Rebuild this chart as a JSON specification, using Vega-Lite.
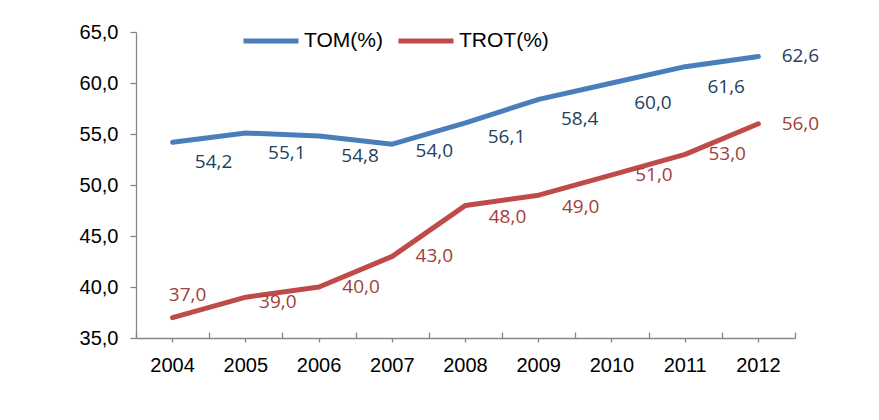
{
  "$schema": "https://vega.github.io/schema/vega-lite/v6.json",
  "autosize": {"type": "none"},
  "padding": {"left": 136, "top": 32, "right": 84, "bottom": 82},
  "width": 659,
  "height": 306,
  "background": "white",
  "config": {"view": {"stroke": null},
    "locale": {"number": {"decimal": ",", "thousands": ".", "grouping": [3], "currency": ["", ""]}}},
  "data": {"values": [
    {"year": "2004", "series": "TOM(%)", "value": 54.2},
    {"year": "2005", "series": "TOM(%)", "value": 55.1},
    {"year": "2006", "series": "TOM(%)", "value": 54.8},
    {"year": "2007", "series": "TOM(%)", "value": 54.0},
    {"year": "2008", "series": "TOM(%)", "value": 56.1},
    {"year": "2009", "series": "TOM(%)", "value": 58.4},
    {"year": "2010", "series": "TOM(%)", "value": 60.0},
    {"year": "2011", "series": "TOM(%)", "value": 61.6},
    {"year": "2012", "series": "TOM(%)", "value": 62.6},
    {"year": "2004", "series": "TROT(%)", "value": 37.0},
    {"year": "2005", "series": "TROT(%)", "value": 39.0},
    {"year": "2006", "series": "TROT(%)", "value": 40.0},
    {"year": "2007", "series": "TROT(%)", "value": 43.0},
    {"year": "2008", "series": "TROT(%)", "value": 48.0},
    {"year": "2009", "series": "TROT(%)", "value": 49.0},
    {"year": "2010", "series": "TROT(%)", "value": 51.0},
    {"year": "2011", "series": "TROT(%)", "value": 53.0},
    {"year": "2012", "series": "TROT(%)", "value": 56.0}
  ]},
  "encoding": {
    "x": {"field": "year", "type": "ordinal", "scale": {"type": "band", "paddingInner": 0, "paddingOuter": 0}},
    "y": {"field": "value", "type": "quantitative",
      "scale": {"domain": [35, 65], "nice": false, "zero": false},
      "axis": {"values": [35, 40, 45, 50, 55, 60, 65], "title": null, "grid": false, "format": ".1f",
        "labelFont": "Liberation Sans", "labelFontSize": 20, "labelColor": "#000000",
        "labelPadding": 12, "tickSize": 6, "tickColor": "#868686", "domainColor": "#868686",
        "domainWidth": 1.3, "tickWidth": 1.3}}
  },
  "layer": [
    {
      "mark": {"type": "line", "strokeWidth": 5, "strokeCap": "round", "strokeJoin": "round"},
      "encoding": {
        "x": {"field": "year", "type": "ordinal", "scale": {"type": "band", "paddingInner": 0, "paddingOuter": 0},
          "axis": {"orient": "bottom", "title": null, "labelAngle": 0, "labelFont": "Liberation Sans", "labelFontSize": 20,
            "labelColor": "#000000", "labelPadding": 13, "tickSize": 4, "tickColor": "#868686",
            "domainColor": "#868686", "domainWidth": 1.3, "tickWidth": 1.3}},
        "color": {"field": "series", "type": "nominal",
          "scale": {"domain": ["TOM(%)", "TROT(%)"], "range": ["#4A7EBB", "#BE4B48"]},
          "legend": {"title": null, "orient": "none", "direction": "horizontal", "legendX": 105, "legendY": -21,
            "symbolType": "stroke", "symbolSize": 3025, "symbolStrokeWidth": 5, "padding": 0,
            "labelFont": "Liberation Sans", "labelFontSize": 21, "labelColor": "#000000",
            "labelOffset": 3, "columnPadding": 5}}
      }
    },
    {
      "transform": [{"filter": "datum.series == 'TOM(%)' && indexof(['2004','2005','2006','2009','2010','2011'], datum.year) >= 0"}],
      "mark": {"type": "text", "dx": 41, "dy": 20, "font": "Open Sans", "fontSize": 19, "color": "#243F60"},
      "encoding": {
        "x": {"field": "year", "type": "ordinal", "scale": {"type": "band", "paddingInner": 0, "paddingOuter": 0},
          "axis": {"orient": "bottom", "title": null, "labels": false, "domain": false, "tickBand": "extent",
            "tickSize": -6, "tickColor": "#868686", "tickWidth": 1.3}},
        "text": {"field": "value", "type": "quantitative", "format": ".1f"}
      }
    },
    {
      "transform": [{"filter": "datum.series == 'TOM(%)' && datum.year == '2007'"}],
      "mark": {"type": "text", "dx": 42, "dy": 7, "font": "Open Sans", "fontSize": 19, "color": "#243F60"},
      "encoding": {"x": {"field": "year", "type": "ordinal", "axis": null}, "text": {"field": "value", "type": "quantitative", "format": ".1f"}}
    },
    {
      "transform": [{"filter": "datum.series == 'TOM(%)' && datum.year == '2008'"}],
      "mark": {"type": "text", "dx": 41, "dy": 14, "font": "Open Sans", "fontSize": 19, "color": "#243F60"},
      "encoding": {"x": {"field": "year", "type": "ordinal", "axis": null}, "text": {"field": "value", "type": "quantitative", "format": ".1f"}}
    },
    {
      "transform": [{"filter": "datum.series == 'TOM(%)' && datum.year == '2012'"}],
      "mark": {"type": "text", "dx": 42, "dy": 0, "font": "Open Sans", "fontSize": 19, "color": "#243F60"},
      "encoding": {"x": {"field": "year", "type": "ordinal", "axis": null}, "text": {"field": "value", "type": "quantitative", "format": ".1f"}}
    },
    {
      "transform": [{"filter": "datum.series == 'TROT(%)' && datum.year == '2004'"}],
      "mark": {"type": "text", "dx": 15, "dy": -23, "font": "Open Sans", "fontSize": 19, "color": "#A33D3A"},
      "encoding": {"x": {"field": "year", "type": "ordinal", "axis": null}, "text": {"field": "value", "type": "quantitative", "format": ".1f"}}
    },
    {
      "transform": [{"filter": "datum.series == 'TROT(%)' && datum.year == '2005'"}],
      "mark": {"type": "text", "dx": 32, "dy": 5, "font": "Open Sans", "fontSize": 19, "color": "#A33D3A"},
      "encoding": {"x": {"field": "year", "type": "ordinal", "axis": null}, "text": {"field": "value", "type": "quantitative", "format": ".1f"}}
    },
    {
      "transform": [{"filter": "datum.series == 'TROT(%)' && (datum.year == '2008' || datum.year == '2009')"}],
      "mark": {"type": "text", "dx": 42, "dy": 12, "font": "Open Sans", "fontSize": 19, "color": "#A33D3A"},
      "encoding": {"x": {"field": "year", "type": "ordinal", "axis": null}, "text": {"field": "value", "type": "quantitative", "format": ".1f"}}
    },
    {
      "transform": [{"filter": "datum.series == 'TROT(%)' && indexof(['2006','2007','2010','2011','2012'], datum.year) >= 0"}],
      "mark": {"type": "text", "dx": 42, "dy": 0, "font": "Open Sans", "fontSize": 19, "color": "#A33D3A"},
      "encoding": {"x": {"field": "year", "type": "ordinal", "axis": null}, "text": {"field": "value", "type": "quantitative", "format": ".1f"}}
    }
  ],
  "resolve": {"axis": {"x": "independent"}}
}
